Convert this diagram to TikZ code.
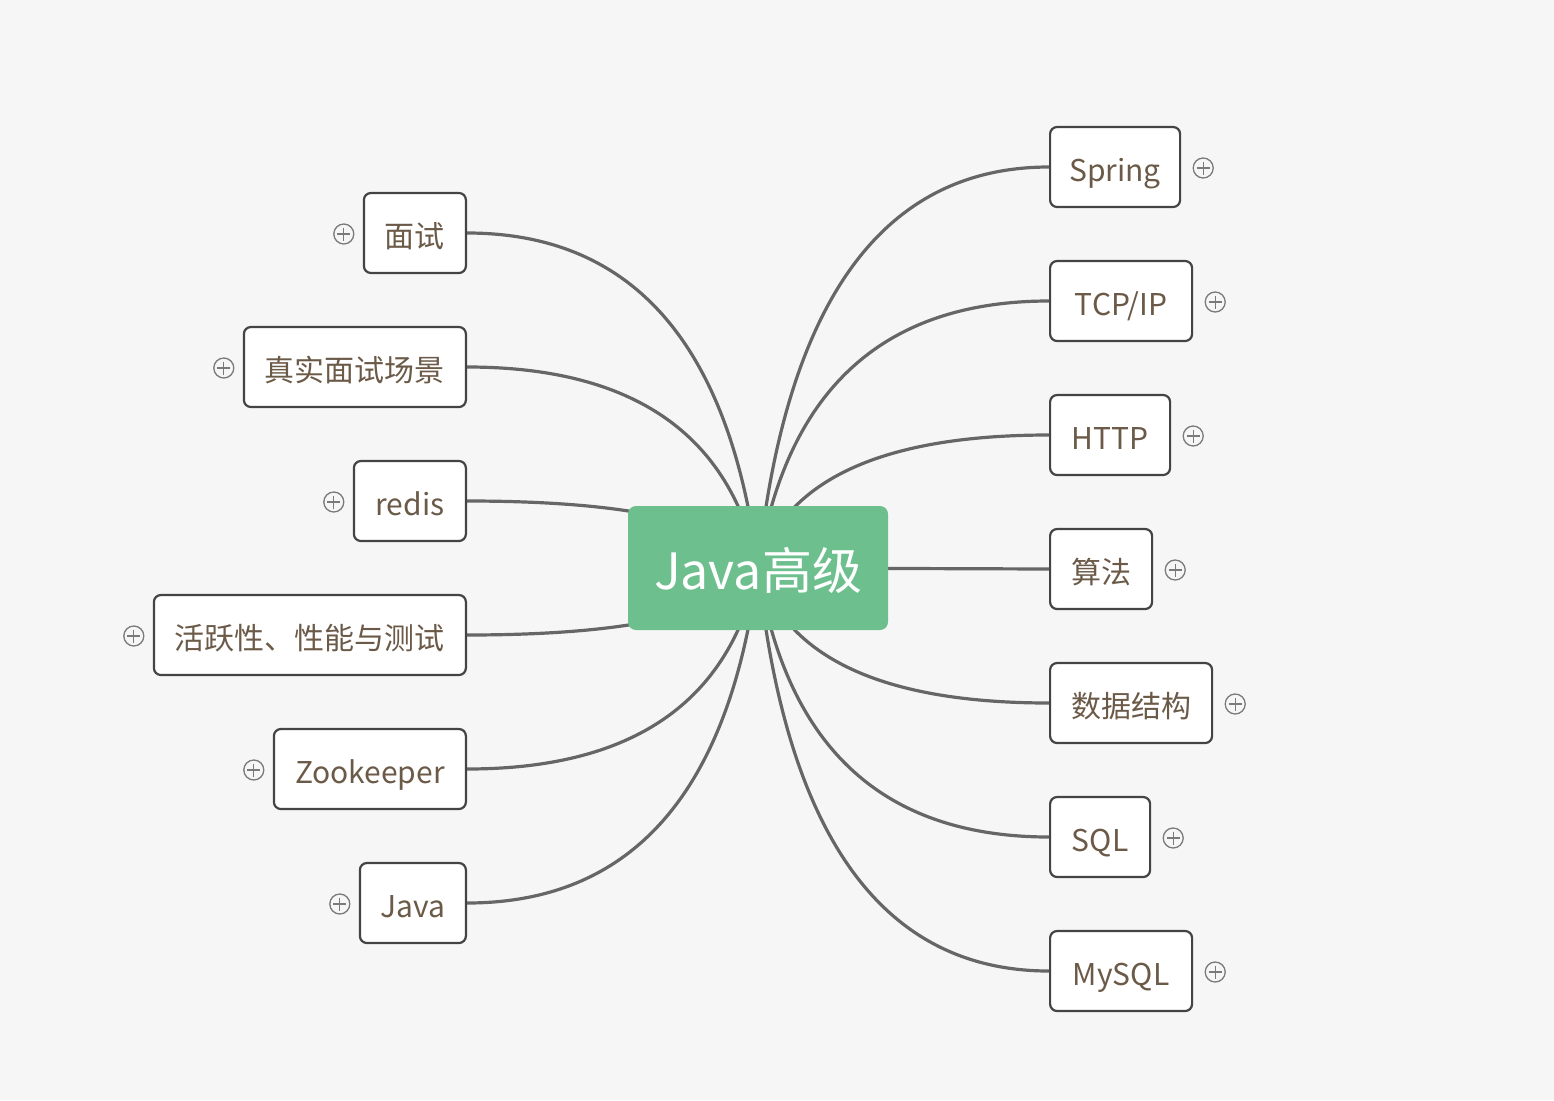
\documentclass[tikz,border=0pt]{standalone}
\usepackage{fontspec}
\setmainfont{Noto Sans CJK SC}
\usetikzlibrary{calc}
\pgfdeclarelayer{bg}
\pgfdeclarelayer{lines}
\pgfsetlayers{bg,lines,main}
\definecolor{bgc}{HTML}{F6F6F6}
\definecolor{mmgreen}{HTML}{6DBF8E}
\definecolor{txtc}{HTML}{6B5A48}
\definecolor{edgec}{HTML}{444444}
\definecolor{connc}{HTML}{666666}
\definecolor{plusc}{HTML}{7A7A7A}
\tikzset{
  topic/.style={draw=edgec, line width=2.2pt, rounded corners=7pt, fill=white,
    minimum height=80pt, text=txtc, font=\fontsize{30}{36}\selectfont, inner sep=0pt,
    text height=30pt, text depth=2pt},
  central/.style={fill=mmgreen, rounded corners=8pt, minimum width=260pt,
    minimum height=124pt, text=white, font=\fontsize{50}{58}\selectfont, inner sep=0pt,
    text height=46pt, text depth=4pt},
  conn/.style={draw=connc, line width=3.2pt},
  plus/.style={circle, draw=plusc, line width=1.3pt, minimum size=20pt, inner sep=0pt},
  plusline/.style={draw=plusc, line width=1.3pt},
}
\newcommand\mmR[1]{%
  \path (cr |- #1.west) coordinate (q);
  \draw[conn] (c.center) .. controls ($(c.center)!0.6667!(q)$) and ($(#1.west)!0.6667!(q)$) .. (#1.west);}
\newcommand\mmL[1]{%
  \path (cl |- #1.east) coordinate (q);
  \draw[conn] (c.center) .. controls ($(c.center)!0.6667!(q)$) and ($(#1.east)!0.6667!(q)$) .. (#1.east);}
\newcommand\mmP[2]{%
  \node[plus] (#1) at #2 {};
  \draw[plusline] (#1.center) +(-6.5,0) -- +(6.5,0);
  \draw[plusline] (#1.center) +(0,-6.5) -- +(0,6.5);}
\begin{document}
\begin{tikzpicture}[x=1pt,y=-1pt]
\begin{pgfonlayer}{bg}
\fill[bgc] (0,0) rectangle (1554,1100);
\end{pgfonlayer}
\useasboundingbox (0,0) rectangle (1554,1100);

\node[central] (c) at (758,568) {Java高级};
\coordinate (cr) at (800,568);
\coordinate (cl) at (716,568);

% right topics
\node[topic, anchor=west, minimum width=130pt] (spring) at (1049,167) {Spring};
\node[topic, anchor=west, minimum width=142pt] (tcp) at (1049,301) {TCP/IP};
\node[topic, anchor=west, minimum width=120pt] (http) at (1049,435) {HTTP};
\node[topic, anchor=west, minimum width=102pt] (algo) at (1049,569) {算法};
\node[topic, anchor=west, minimum width=162pt] (ds) at (1049,703) {数据结构};
\node[topic, anchor=west, minimum width=100pt] (sql) at (1049,837) {SQL};
\node[topic, anchor=west, minimum width=142pt] (mysql) at (1049,971) {MySQL};

% left topics
\node[topic, anchor=east, minimum width=102pt] (ms) at (467,233) {面试};
\node[topic, anchor=east, minimum width=222pt] (zs) at (467,367) {真实面试场景};
\node[topic, anchor=east, minimum width=112pt] (redis) at (467,501) {redis};
\node[topic, anchor=east, minimum width=312pt] (hy) at (467,635) {活跃性、性能与测试};
\node[topic, anchor=east, minimum width=192pt] (zk) at (467,769) {Zookeeper};
\node[topic, anchor=east, minimum width=106pt] (java) at (467,903) {Java};

% plus markers
\mmP{p1}{($(spring.east)+(22,1)$)}
\mmP{p2}{($(tcp.east)+(22,1)$)}
\mmP{p3}{($(http.east)+(22,1)$)}
\mmP{p4}{($(algo.east)+(22,1)$)}
\mmP{p5}{($(ds.east)+(22,1)$)}
\mmP{p6}{($(sql.east)+(22,1)$)}
\mmP{p7}{($(mysql.east)+(22,1)$)}
\mmP{q1}{($(ms.west)+(-19,1)$)}
\mmP{q2}{($(zs.west)+(-19,1)$)}
\mmP{q3}{($(redis.west)+(-19,1)$)}
\mmP{q4}{($(hy.west)+(-19,1)$)}
\mmP{q5}{($(zk.west)+(-19,1)$)}
\mmP{q6}{($(java.west)+(-19,1)$)}

\begin{pgfonlayer}{lines}
\mmR{spring}
\mmR{tcp}
\mmR{http}
\draw[conn] (c.center) -- (algo.west);
\mmR{ds}
\mmR{sql}
\mmR{mysql}
\mmL{ms}
\mmL{zs}
\mmL{redis}
\mmL{hy}
\mmL{zk}
\mmL{java}
\end{pgfonlayer}
\end{tikzpicture}
\end{document}
